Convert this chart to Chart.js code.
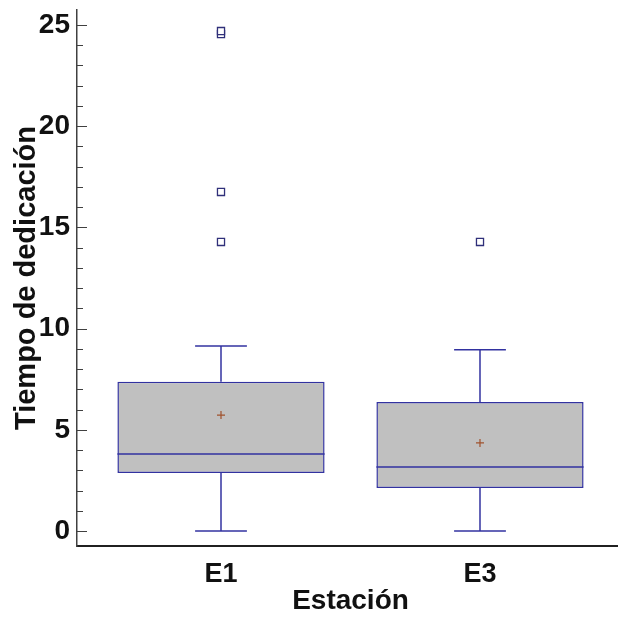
<!DOCTYPE html>
<html>
<head>
<meta charset="utf-8">
<script src="https://cdn.jsdelivr.net/npm/chart.js@4/dist/chart.umd.min.js"></script>
<style>
  html, body { margin: 0; padding: 0; background: #fff; overflow: hidden; }
  canvas { display: block; }
</style>
</head>
<body>
<canvas id="boxChart" width="640" height="630"></canvas>
<script>
// datos
const estaciones = ["E1", "E3"];
const q1 = [2.87, 2.13];
const medianas = [3.81, 3.16];
const q3 = [7.37, 6.38];
const bigoteMin = [0, 0];
const bigoteMax = [9.14, 8.95];
const medias = [5.73, 4.35];
const atipicos = [[14.28, 16.75, 24.55, 24.7], [14.28]];
const yTicks = [0, 5, 10, 15, 20, 25];

const colorCaja = "#3232a0";
const colorRelleno = "#c0c0c0";
const colorEje = "#404040";

Chart.defaults.font.family = "'Liberation Sans', Arial, sans-serif";
Chart.defaults.color = "#111";

// mediana, bigotes y marcas del eje y (hacia dentro)
const extrasCaja = {
  id: "extrasCaja",
  afterDatasetsDraw(chart) {
    const { ctx, scales } = chart;
    const x = scales.x, y = scales.y;
    const meta = chart.getDatasetMeta(0);
    const capHalf = x.getPixelForValue(0.1) - x.getPixelForValue(0);
    ctx.save();
    ctx.strokeStyle = colorCaja;
    ctx.lineWidth = 1.5;
    meta.data.forEach((bar, i) => {
      const cx = bar.x;
      const half = bar.width / 2;
      const seg = (x1, y1, x2, y2) => {
        ctx.beginPath();
        ctx.moveTo(x1, y1);
        ctx.lineTo(x2, y2);
        ctx.stroke();
      };
      const yMed = y.getPixelForValue(medianas[i]);
      seg(cx - half, yMed, cx + half, yMed);
      const yHi = y.getPixelForValue(bigoteMax[i]);
      const yLo = y.getPixelForValue(bigoteMin[i]);
      seg(cx, y.getPixelForValue(q3[i]), cx, yHi);
      seg(cx, y.getPixelForValue(q1[i]), cx, yLo);
      seg(cx - capHalf, yHi, cx + capHalf, yHi);
      seg(cx - capHalf, yLo, cx + capHalf, yLo);
    });
    ctx.restore();
  },
  afterDraw(chart) {
    const { ctx } = chart;
    const y = chart.scales.y;
    ctx.save();
    ctx.strokeStyle = colorEje;
    ctx.lineWidth = 1;
    y.ticks.forEach(t => {
      const py = Math.round(y.getPixelForValue(t.value)) + 0.5;
      const len = yTicks.includes(t.value) ? 10 : 6;
      ctx.beginPath();
      ctx.moveTo(y.right, py);
      ctx.lineTo(y.right + len, py);
      ctx.stroke();
    });
    ctx.restore();
  }
};

const puntosAtipicos = [];
atipicos.forEach((lista, i) => lista.forEach(v => puntosAtipicos.push({ x: i, y: v })));

// sin margen extra por las etiquetas de los extremos
const sinMargen = s => {
  s.paddingTop = 0;
  s.paddingBottom = 0;
  s.paddingLeft = 0;
  s.paddingRight = 0;
};

new Chart(document.getElementById("boxChart"), {
  type: "bar",
  data: {
    datasets: [
      {
        type: "bar",
        order: 2,
        data: estaciones.map((e, i) => ({ x: i, y: [q1[i], q3[i]] })),
        backgroundColor: colorRelleno,
        borderColor: colorCaja,
        borderWidth: 1.5,
        borderSkipped: false,
        barPercentage: 0.8,
        categoryPercentage: 1
      },
      {
        type: "scatter",
        order: 0,
        data: puntosAtipicos,
        pointStyle: "rect",
        radius: 5,
        borderColor: "#30307a",
        backgroundColor: "#fff",
        borderWidth: 1.3
      },
      {
        type: "scatter",
        order: 1,
        data: estaciones.map((e, i) => ({ x: i, y: medias[i] })),
        pointStyle: "cross",
        radius: 4,
        borderColor: "#a0522d",
        borderWidth: 1.2
      }
    ]
  },
  options: {
    responsive: false,
    animation: false,
    layout: { padding: { top: 10, right: 16, bottom: 0, left: 0 } },
    plugins: { legend: { display: false }, tooltip: { enabled: false } },
    scales: {
      x: {
        type: "linear",
        offset: false,
        min: -0.556,
        max: 1.556,
        afterFit: s => { s.height = 84; sinMargen(s); },
        grid: { display: false, drawTicks: false, offset: false },
        border: { display: true, color: "#202020", width: 2 },
        ticks: {
          stepSize: 1,
          includeBounds: false,
          autoSkip: false,
          padding: 12,
          font: { size: 27, weight: "bold" },
          callback: v => estaciones[v] ?? ""
        },
        title: {
          display: true,
          text: "Estación",
          font: { size: 28, weight: "bold" },
          padding: { top: 0, bottom: 12 }
        }
      },
      y: {
        min: -0.74,
        max: 25.74,
        afterFit: s => { s.width = 77; sinMargen(s); },
        grid: { display: false, drawTicks: false },
        border: { display: true, color: colorEje, width: 1.5 },
        ticks: {
          stepSize: 1,
          includeBounds: false,
          autoSkip: false,
          padding: 7,
          font: { size: 28, weight: "bold" },
          callback: v => (yTicks.includes(v) ? v : "")
        },
        title: {
          display: true,
          text: "Tiempo de dedicación",
          font: { size: 29, weight: "bold" },
          padding: { top: 10, bottom: 0 }
        }
      }
    }
  },
  plugins: [extrasCaja]
});
</script>
</body>
</html>
